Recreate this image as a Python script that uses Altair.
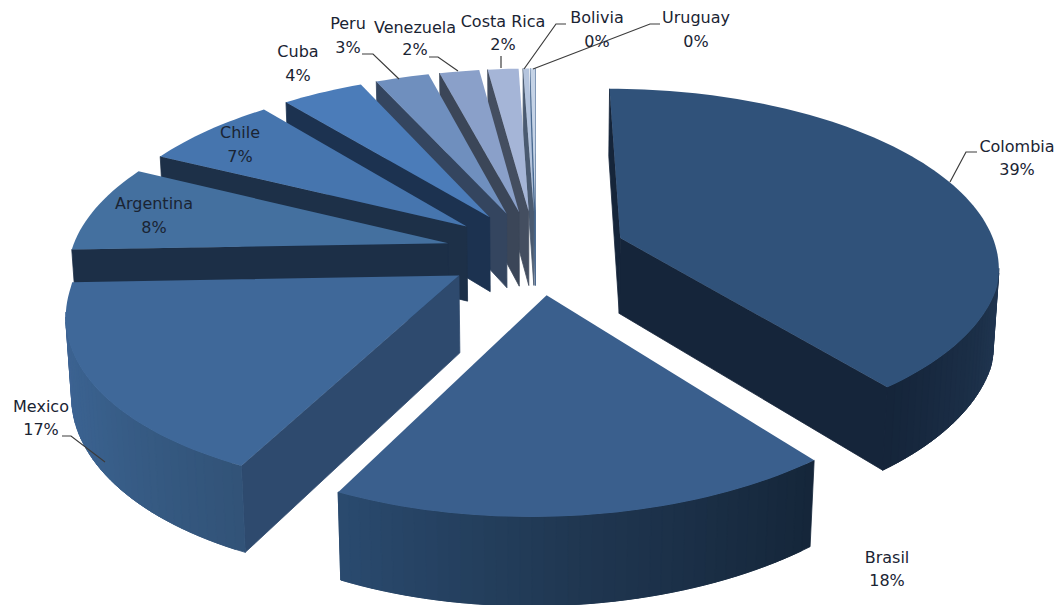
import math
import altair as alt

# Share of each country, in the clockwise drawing order starting at twelve o'clock
countries = ["Colombia", "Brasil", "Mexico", "Argentina", "Chile", "Cuba", "Peru",
             "Venezuela", "Costa Rica", "Bolivia", "Uruguay"]
shares = [39.15, 17.95, 17.4, 7.9, 6.8, 4.1, 2.7, 2.0, 1.55, 0.3, 0.25]

# Surface colours
top_colors = ["#30527a", "#3a5f8d", "#3f6899", "#44709f", "#4675ae", "#4b7cb9", "#6f8fbe",
              "#8aa0c9", "#a5b5d7", "#b4c4dd", "#c5d3e6"]
cut_colors = ["#15253a", "#15253a", "#2e4a6e", "#1c2f47", "#1d3048", "#1c3250", "#34455f",
              "#3b4658", "#444e60", "#4a5a70", "#4a6a90"]
rim_start = ["#2e4a6e", "#15263a", "#325378", "#3f6597", "#3f6597", "#3f6597", "#3f6597",
             "#3f6597", "#3f6597", "#3f6597", "#3f6597"]
rim_mid = ["#2a4566", "#1f3650", "#39608c", "#3f6597", "#3f6597", "#3f6597", "#3f6597",
           "#3f6597", "#3f6597", "#3f6597", "#3f6597"]
rim_end = ["#15253a", "#2a4a6e", "#3f6597", "#3f6597", "#3f6597", "#3f6597", "#3f6597",
           "#3f6597", "#3f6597", "#3f6597", "#3f6597"]

# Label placement: centre x, y of the name line, y of the percentage line
label_x = [1017, 887, 41, 154, 240, 298, 348, 415, 503, 597, 696]
name_y = [147, 558, 407, 204, 133, 52, 24, 28, 22, 18, 18]
pct_y = [170, 581, 430, 228, 157, 76, 48, 50, 45, 42, 42]

# Leader lines
leaders = {
    "Colombia": [(977, 152), (966, 152), (950, 182)],
    "Mexico": [(62, 436), (71, 436), (105, 462)],
    "Peru": [(362, 54), (373, 54), (399, 79)],
    "Venezuela": [(429, 57), (438, 57), (458, 71)],
    "Costa Rica": [(501, 56), (501, 68)],
    "Bolivia": [(566, 24), (556, 24), (524, 69)],
    "Uruguay": [(660, 24), (650, 24), (533, 69)],
}

# Camera and pie proportions
CX, CY = 536, 252
RADIUS_X, RADIUS_Y = 377, 175
TILT = 0.147
EXPLODE = 0.24
THICKNESS = 77
BASE_SHRINK = 0.012
FRONT_SKEW = 18


def project(x, y, lower=False):
    w = 1 - TILT * y
    skew = FRONT_SKEW * max(0.0, y - 0.2)
    if lower:
        w += BASE_SHRINK
        return (CX + RADIUS_X * x / w - skew, CY + (RADIUS_Y * y + THICKNESS) / w)
    return (CX + RADIUS_X * x / w - skew, CY + RADIUS_Y * y / w)


def mix(c1, c2, t):
    a = [int(c1[i:i + 2], 16) for i in (1, 3, 5)]
    b = [int(c2[i:i + 2], 16) for i in (1, 3, 5)]
    return "#%02x%02x%02x" % tuple(round(p + (q - p) * t) for p, q in zip(a, b))


def polygon(points, fill, outline_width):
    ring = [[round(px, 2), round(py, 2)] for px, py in points]
    ring.append(ring[0])
    return {"type": "Feature", "properties": {"fill": fill, "edge": outline_width},
            "geometry": {"type": "Polygon", "coordinates": [ring]}}


def cross(o, a, b):
    return (a[0] - o[0]) * (b[1] - o[1]) - (a[1] - o[1]) * (b[0] - o[0])


def faces_viewer(p, q, inner):
    # A wall below edge p-q shows when the top surface lies on the far side of that edge
    below = (p[0], p[1] + 10)
    return cross(p, q, below) * cross(p, q, inner) < 0


def slice_features(i, start, end):
    mid = (start + end) / 2
    ox = EXPLODE * math.sin(mid)
    oy = -EXPLODE * math.cos(mid)
    steps = max(2, int(math.degrees(end - start) / 1.5))
    angles = [start + (end - start) * k / steps for k in range(steps + 1)]
    rim = [(ox + math.sin(a), oy - math.cos(a)) for a in angles]
    top_apex = project(ox, oy)
    low_apex = project(ox, oy, True)
    top_rim = [project(*p) for p in rim]
    low_rim = [project(*p, True) for p in rim]
    outline = [top_apex] + top_rim
    inner = (sum(p[0] for p in outline) / len(outline), sum(p[1] for p in outline) / len(outline))

    # Walls carry a thin outline of their own colour so no white shows under the top's edge
    feats = []
    for edge_top, edge_low in ((top_rim[0], low_rim[0]), (top_rim[-1], low_rim[-1])):
        if faces_viewer(top_apex, edge_top, inner):
            feats.append(polygon([top_apex, edge_top, edge_low, low_apex], cut_colors[i], 0.8))
    for k in range(steps):
        if faces_viewer(top_rim[k], top_rim[k + 1], inner):
            t = k / max(1, steps - 1)
            shade = (mix(rim_start[i], rim_mid[i], t * 2) if t < 0.5
                     else mix(rim_mid[i], rim_end[i], t * 2 - 1))
            # Each strip runs one step past its end so the next one overlaps it without a seam
            far = min(k + 2, steps)
            upper = top_rim[k:far + 1]
            lower = low_rim[k:far + 1]
            feats.append(polygon(upper + lower[::-1], shade, 0.8))
    feats.append(polygon(outline, top_colors[i], 0))
    return feats


total = sum(shares)
spans = []
running = 0.0
for s in shares:
    spans.append((running / total * 2 * math.pi, (running + s) / total * 2 * math.pi))
    running += s

# Back slices go first so the nearer ones paint over them
features = []
for i in range(len(countries) - 1, -1, -1):
    features += slice_features(i, *spans[i])

pie = (
    alt.Chart(alt.InlineData(values={"type": "FeatureCollection", "features": features},
                             format=alt.DataFormat(property="features")))
    .mark_geoshape()
    .encode(color=alt.Color("properties.fill:N", scale=None),
            stroke=alt.Stroke("properties.fill:N", scale=None),
            strokeWidth=alt.StrokeWidth("properties.edge:Q", scale=None))
    .project(type="identity", scale=1, translate=[0, 0])
)

leader_rows = [{"name": n, "seq": k, "x": p[0], "y": p[1]}
               for n, pts in leaders.items() for k, p in enumerate(pts)]
leader_lines = (
    alt.Chart(alt.Data(values=leader_rows))
    .mark_line(color="#3c3c3c", strokeWidth=1.2)
    .encode(x=alt.X("x:Q", scale=None), y=alt.Y("y:Q", scale=None),
            detail="name:N", order="seq:Q")
)

label_rows = []
for n, s, lx, ny, py in zip(countries, shares, label_x, name_y, pct_y):
    label_rows.append({"x": lx, "y": ny, "text": n})
    label_rows.append({"x": lx, "y": py, "text": f"{round(s)}%"})
labels = (
    alt.Chart(alt.Data(values=label_rows))
    .mark_text(font="DejaVu Sans", fontSize=16, color="#1a2433", align="center", baseline="middle")
    .encode(x=alt.X("x:Q", scale=None), y=alt.Y("y:Q", scale=None), text="text:N")
)

chart = (
    alt.layer(pie, leader_lines, labels)
    .properties(width=1057, height=605, padding=0, background="white",
                autosize=alt.AutoSizeParams(type="none"))
    .configure_view(stroke=None)
)

chart.save("out.html", embed_options={"renderer": "svg", "actions": False})
